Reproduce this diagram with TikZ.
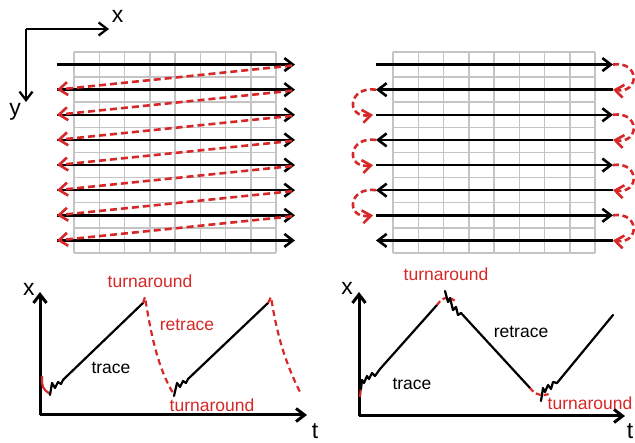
\documentclass[tikz,border=0pt]{standalone}
\usepackage{fontspec}
\setmainfont{Liberation Sans}
\usetikzlibrary{arrows.meta}
\definecolor{scanred}{RGB}{214,40,40}
\definecolor{gridgray}{RGB}{196,196,196}
\begin{document}
\begin{tikzpicture}[x=1pt,y=-1pt,
  gridline/.style={gridgray,line width=1.5pt},
  barb/.style={-{Straight Barb[length=8.5pt,width=13pt]}},
  scanarrow/.style={black,line width=2.6pt,barb},
  retracearrow/.style={scanred,line width=2.6pt,dash pattern=on 7pt off 4pt,barb},
  axisarrow/.style={black,line width=3pt,barb},
  curve/.style={black,line width=2.2pt,line join=round,line cap=round},
  redcurve/.style={scanred,line width=2.2pt,dash pattern=on 6pt off 4pt},
  redsolid/.style={scanred,line width=2.2pt},
  lbl/.style={inner sep=0pt,font=\fontsize{17.5}{20}\selectfont},
  axlbl/.style={inner sep=0pt,font=\fontsize{23}{26}\selectfont}]
\useasboundingbox (0,0) rectangle (635,443);

% ---------- top-left frame axes
\coordinate (F0) at (26,29);
\coordinate (Fx) at (109,29);
\coordinate (Fy) at (26,102);
\draw[scanarrow,line width=2.3pt] (F0) -- (Fx);
\draw[scanarrow,line width=2.3pt] (F0) -- (Fy);
\node[axlbl] (lx) at (117.5,16) {x};
\node[axlbl] (ly) at (15,112) {y};

% ---------- grids
\foreach \gx in {74,393}{
  \foreach \i in {0,...,8}
    \draw[gridline] ({\gx+\i*25.25},52) -- ({\gx+\i*25.25},253);
  \foreach \j in {0,...,16}
    \draw[gridline] (\gx,{52+\j*12.5625}) -- ({\gx+202},{52+\j*12.5625});
}

% ---------- left raster (zig-zag)
\foreach \k in {1,...,8}{
  \coordinate (Lin\k) at (57,{52+(2*\k-1)*12.5625});
  \coordinate (Lout\k) at (295,{52+(2*\k-1)*12.5625});
  \draw[scanarrow] (Lin\k) -- (Lout\k);
}
\foreach \k in {1,...,7}{
  \pgfmathtruncatemacro\n{\k+1}
  \draw[retracearrow] ([xshift=-3pt,yshift=-1pt]Lout\k) -- (Lin\n);
}

% ---------- right raster (serpentine)
\foreach \k in {1,...,8}{
  \coordinate (Rl\k) at (376,{52+(2*\k-1)*12.5625});
  \coordinate (Rr\k) at (613,{52+(2*\k-1)*12.5625});
}
\foreach \k in {1,3,5,7}{
  \draw[scanarrow] (Rl\k) -- (Rr\k);
  \pgfmathtruncatemacro\n{\k+1}
  \draw[retracearrow,dash pattern=on 6pt off 3.5pt] (Rr\k) .. controls +(27,-4) and +(27,4) .. (Rr\n);
}
\foreach \k in {2,4,6,8}{
  \draw[scanarrow] (Rr\k) -- (Rl\k);
}
\foreach \k in {2,4,6}{
  \pgfmathtruncatemacro\n{\k+1}
  \draw[retracearrow,dash pattern=on 6pt off 3.5pt] (Rl\k) .. controls +(-28,-4) and +(-28,4) .. ([xshift=-3pt]Rl\n);
}

% ---------- bottom-left plot
\coordinate (A0) at (40,415);
\coordinate (Ay) at (40,292);
\coordinate (At) at (307,415);
\draw[axisarrow] (A0) -- (Ay);
\draw[axisarrow] (A0) -- (At);
\node[axlbl] (Ax) at (29,289) {x};
\node[axlbl] (Atl) at (315,431) {t};

\draw[redsolid] (42,376) .. controls (42,388) .. (50,394);
\draw[curve] (50,395) -- (52,383) -- (55,388) -- (58,382) -- (61,384) -- (63,380) -- (66,377) -- (143,303);
\draw[redcurve] (143,303) -- (145,297) .. controls (151,335) and (158,368) .. (173,393);
\draw[curve] (174,396) -- (177,383) -- (180,387) -- (183,381) -- (186,383) -- (188,379) -- (268,303);
\draw[redcurve] (268,303) -- (271,297) .. controls (277,335) and (285,362) .. (300,392);

\node[lbl,scanred] (a1) at (150,281) {turnaround};
\node[lbl,scanred] (a2) at (187,325) {retrace};
\node[lbl] (a3) at (111,368) {trace};
\node[lbl,scanred] (a4) at (212,405) {turnaround};

% ---------- bottom-right plot
\coordinate (B0) at (359,416);
\coordinate (By) at (359,292);
\coordinate (Bt) at (625,416);
\draw[axisarrow] (B0) -- (By);
\draw[axisarrow] (B0) -- (Bt);
\node[axlbl] (Bx) at (347,288) {x};
\node[axlbl] (Btl) at (630,431) {t};

\draw[redsolid] (360,397) -- (361,388);
\draw[curve] (361,389) -- (362,380) -- (364,383) -- (367,376) -- (369,379) -- (372,373) -- (375,376) -- (380,369) -- (437,305);
\draw[redcurve,dash pattern=on 5pt off 3pt] (437,305) .. controls (443,296) and (450,296) .. (456,302);
\draw[curve] (445,291) -- (448,302) -- (450,298) -- (453,310) -- (456,307) -- (458,315) -- (461,313) -- (530,388);
\draw[redcurve,dash pattern=on 5pt off 3pt] (530,388) .. controls (535,395) and (543,397) .. (551,393);
\draw[curve] (541,401) -- (543,388) -- (545,392) -- (548,385) -- (551,389) -- (553,382) -- (557,383) -- (613,315);

\node[lbl,scanred] (b1) at (446,274) {turnaround};
\node[lbl] (b2) at (521,332) {retrace};
\node[lbl] (b3) at (412,384) {trace};
\node[lbl,scanred] (b4) at (590,403) {turnaround};
\end{tikzpicture}
\end{document}
